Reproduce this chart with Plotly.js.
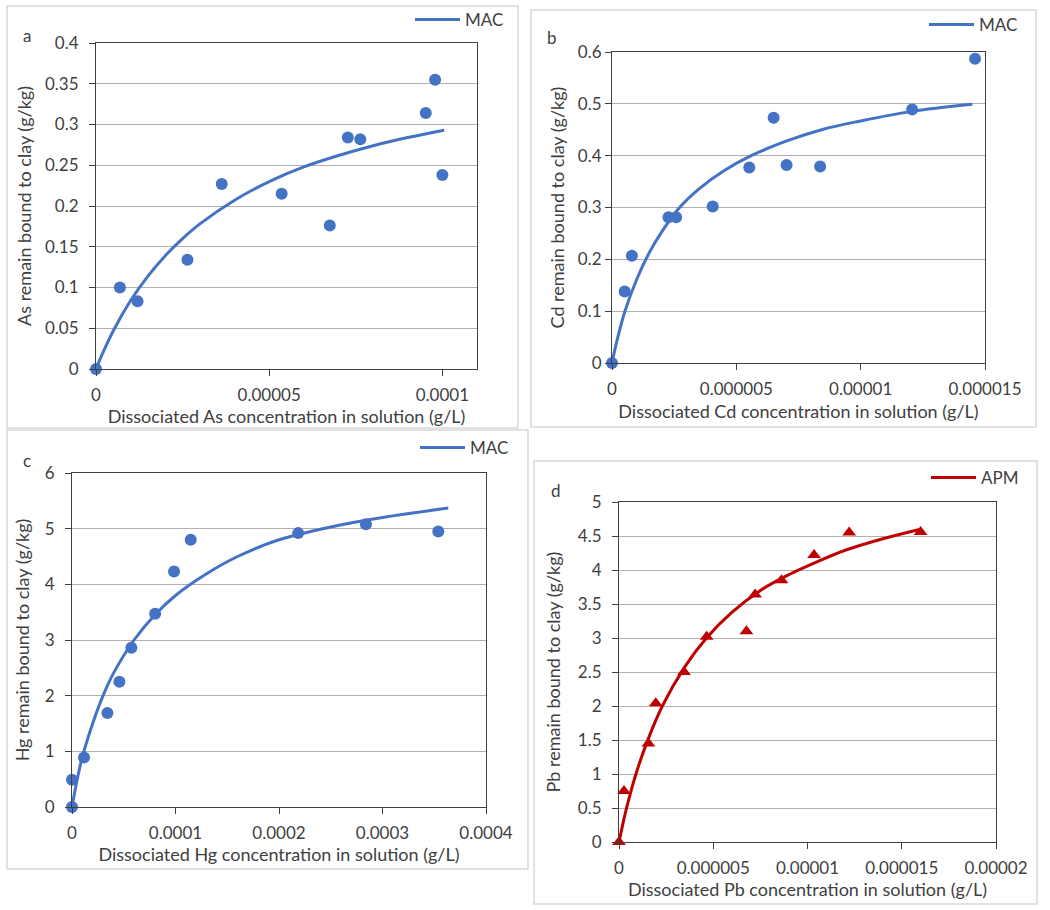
<!DOCTYPE html>
<html>
<head>
<meta charset="utf-8">
<script src="https://cdn.plot.ly/plotly-3.0.1.min.js"></script>
<style>html,body{margin:0;padding:0;background:#fff;}#chart{width:1050px;height:910px;}</style>
</head>
<body>
<div id="chart"></div>
<script>
// ---- Panel a: As (MAC) ----
const asX = [0, 0.0000069, 0.000012, 0.0000264, 0.0000363, 0.0000536, 0.0000675, 0.0000727, 0.0000763, 0.0000952, 0.0000979, 0.0001];
const asY = [0, 0.1, 0.083, 0.134, 0.227, 0.215, 0.176, 0.284, 0.282, 0.314, 0.355, 0.238];
const asFitX = [0, 0.000002, 0.000005, 0.00001, 0.000015, 0.00002, 0.000025, 0.00003, 0.00004, 0.00005, 0.00006, 0.00007, 0.00008, 0.00009, 0.0001005];
const asFitY = [0, 0.02, 0.047, 0.084, 0.114, 0.139, 0.16, 0.178, 0.207, 0.23, 0.248, 0.262, 0.274, 0.284, 0.293];

// ---- Panel b: Cd (MAC) ----
const cdX = [0, 0.00000051, 0.0000008, 0.00000227, 0.00000258, 0.00000405, 0.00000552, 0.0000065, 0.00000702, 0.00000837, 0.00001207, 0.0000146];
const cdY = [0, 0.138, 0.207, 0.281, 0.281, 0.302, 0.377, 0.473, 0.382, 0.379, 0.489, 0.587];
const cdFitX = [0, 0.0000002, 0.00000052, 0.000001, 0.0000015, 0.000002, 0.0000027, 0.0000035, 0.0000045, 0.0000056, 0.000007, 0.0000085, 0.00001, 0.000012, 0.00001449];
const cdFitY = [0, 0.043, 0.1, 0.162, 0.213, 0.253, 0.299, 0.336, 0.371, 0.4, 0.428, 0.451, 0.467, 0.485, 0.499];

// ---- Panel c: Hg (MAC) ----
const hgX = [0, 0, 0.0000116, 0.0000342, 0.0000458, 0.0000574, 0.0000803, 0.0000986, 0.0001147, 0.0002185, 0.000284, 0.0003539];
const hgY = [0, 0.49, 0.89, 1.69, 2.25, 2.86, 3.47, 4.23, 4.8, 4.92, 5.08, 4.95];
const hgFitX = [0, 0.000004, 0.00001, 0.00002, 0.00003, 0.00004, 0.00006, 0.00008, 0.0001, 0.00013, 0.00016, 0.0002, 0.00025, 0.0003, 0.0003636];
const hgFitY = [0, 0.4, 0.9, 1.5, 2.0, 2.4, 3.0, 3.45, 3.8, 4.19, 4.5, 4.8, 5.03, 5.2, 5.37];

// ---- Panel d: Pb (APM) ----
const pbX = [0, 0.000000265, 0.00000156, 0.00000195, 0.00000345, 0.00000465, 0.00000676, 0.00000722, 0.00000862, 0.00001035, 0.00001221, 0.000016];
const pbY = [0, 0.75, 1.45, 2.04, 2.5, 3.02, 3.1, 3.64, 3.85, 4.22, 4.55, 4.56];
const pbFitX = [0, 0.0000002, 0.0000004, 0.0000009, 0.0000015, 0.0000023, 0.0000035, 0.00000464, 0.000006, 0.0000075, 0.000009, 0.0000105, 0.000012, 0.000014, 0.000016];
const pbFitY = [0, 0.26, 0.5, 1.0, 1.48, 2.0, 2.58, 3.0, 3.38, 3.7, 3.93, 4.12, 4.29, 4.46, 4.6];

// ---- Tick labels ----
const aTickVals = [0, 0.00005, 0.0001];
const aTickText = ['0', '0.00005', '0.0001'];
const bTickVals = [0, 0.000005, 0.00001, 0.000015];
const bTickText = ['0', '0.000005', '0.00001', '0.000015'];
const cTickVals = [0, 0.0001, 0.0002, 0.0003, 0.0004];
const cTickText = ['0', '0.0001', '0.0002', '0.0003', '0.0004'];
const dTickVals = [0, 0.000005, 0.00001, 0.000015, 0.00002];
const dTickText = ['0', '0.000005', '0.00001', '0.000015', '0.00002'];

const fitNames = ['MAC', 'MAC', 'MAC', 'APM'];
const panelLabels = ['a', 'b', 'c', 'd'];

const BLUE = '#4472C4';
const RED = '#C00000';
const W = 1050, H = 910;
const px = v => v / W;
const py = v => 1 - v / H;

const traces = [
  {x: asX, y: asY, xaxis: 'x', yaxis: 'y', mode: 'markers', type: 'scatter', showlegend: false, cliponaxis: false,
   marker: {color: BLUE, size: 12, symbol: 'circle'}},
  {x: asFitX, y: asFitY, xaxis: 'x', yaxis: 'y', mode: 'lines', type: 'scatter', name: fitNames[0], legend: 'legend', cliponaxis: false,
   line: {color: BLUE, width: 3, shape: 'spline', smoothing: 1}},
  {x: cdX, y: cdY, xaxis: 'x2', yaxis: 'y2', mode: 'markers', type: 'scatter', showlegend: false, cliponaxis: false,
   marker: {color: BLUE, size: 12, symbol: 'circle'}},
  {x: cdFitX, y: cdFitY, xaxis: 'x2', yaxis: 'y2', mode: 'lines', type: 'scatter', name: fitNames[1], legend: 'legend2', cliponaxis: false,
   line: {color: BLUE, width: 3, shape: 'spline', smoothing: 1}},
  {x: hgX, y: hgY, xaxis: 'x3', yaxis: 'y3', mode: 'markers', type: 'scatter', showlegend: false, cliponaxis: false,
   marker: {color: BLUE, size: 12, symbol: 'circle'}},
  {x: hgFitX, y: hgFitY, xaxis: 'x3', yaxis: 'y3', mode: 'lines', type: 'scatter', name: fitNames[2], legend: 'legend3', cliponaxis: false,
   line: {color: BLUE, width: 3, shape: 'spline', smoothing: 1}},
  {x: pbX, y: pbY, xaxis: 'x4', yaxis: 'y4', mode: 'markers', type: 'scatter', showlegend: false, cliponaxis: false,
   marker: {color: RED, size: 12, symbol: 'triangle-up'}},
  {x: pbFitX, y: pbFitY, xaxis: 'x4', yaxis: 'y4', mode: 'lines', type: 'scatter', name: fitNames[3], legend: 'legend4', cliponaxis: false,
   line: {color: RED, width: 3, shape: 'spline', smoothing: 1}}
];

const TXT = '#404040';
const AX = '#404040';
function xAxis(domain, anchor, range, vals, text, title, tstand) {
  return {domain: domain, anchor: anchor, range: range, tickvals: vals, ticktext: text,
    showline: true, mirror: true, linecolor: AX, linewidth: 1, ticks: 'outside', ticklen: 6, tickcolor: AX,
    showgrid: false, zeroline: false, ticklabelstandoff: 5, fixedrange: true,
    tickfont: {size: 17, color: TXT}, title: {text: title, font: {size: 18, color: TXT}, standoff: tstand}};
}
function yAxis(domain, anchor, range, dtick, title, lstand, tstand) {
  return {domain: domain, anchor: anchor, range: range, dtick: dtick, tick0: 0,
    showline: true, mirror: true, linecolor: AX, linewidth: 1, ticks: 'outside', ticklen: 6, tickcolor: AX,
    showgrid: true, gridcolor: '#b0b0b0', gridwidth: 1, zeroline: false, ticklabelstandoff: lstand, fixedrange: true,
    tickfont: {size: 17, color: TXT}, title: {text: title, font: {size: 18, color: TXT}, standoff: tstand}};
}
function legendAt(xp, yp) {
  return {x: px(xp), y: py(yp), xanchor: 'left', yanchor: 'middle', bgcolor: 'rgba(0,0,0,0)', borderwidth: 0,
    itemwidth: 45, font: {size: 17, color: TXT}, itemclick: false, itemdoubleclick: false};
}
function frame(x0, y0, x1, y1) {
  return {type: 'rect', xref: 'paper', yref: 'paper', x0: px(x0), x1: px(x1), y0: py(y1), y1: py(y0),
    line: {color: '#d9d9d9', width: 1.5}, fillcolor: 'rgba(0,0,0,0)', layer: 'below'};
}
function label(t, xp, yp) {
  return {text: t, xref: 'paper', yref: 'paper', x: px(xp), y: py(yp), showarrow: false,
    xanchor: 'center', yanchor: 'middle', font: {size: 17, color: TXT}};
}

const layout = {
  width: W, height: H, margin: {l: 0, r: 0, t: 0, b: 0},
  paper_bgcolor: '#ffffff', plot_bgcolor: '#ffffff',
  font: {family: 'Lato, "Open Sans", sans-serif', size: 17, color: TXT},
  xaxis: xAxis([px(96), px(477)], 'y', [0, 0.00011], aTickVals, aTickText, 'Dissociated As concentration in solution (g/L)', 3),
  yaxis: yAxis([py(369), py(43)], 'x', [0, 0.4], 0.05, 'As remain bound to clay (g/kg)', 7, 8),
  xaxis2: xAxis([px(612), px(985)], 'y2', [0, 0.000015], bTickVals, bTickText, 'Dissociated Cd concentration in solution (g/L)', 6),
  yaxis2: yAxis([py(363), py(52)], 'x2', [0, 0.6], 0.1, 'Cd remain bound to clay (g/kg)', 0, 8),
  xaxis3: xAxis([px(72), px(486)], 'y3', [0, 0.0004], cTickVals, cTickText, 'Dissociated Hg concentration in solution (g/L)', 3),
  yaxis3: yAxis([py(807), py(473)], 'x3', [0, 6], 1, 'Hg remain bound to clay (g/kg)', 7, 10),
  xaxis4: xAxis([px(619), px(996)], 'y4', [0, 0.00002], dTickVals, dTickText, 'Dissociated Pb concentration in solution (g/L)', 4),
  yaxis4: yAxis([py(842), py(502)], 'x4', [0, 5], 0.5, 'Pb remain bound to clay (g/kg)', 7, 12),
  legend: legendAt(410, 20),
  legend2: legendAt(924, 25),
  legend3: legendAt(415, 448),
  legend4: legendAt(926, 478),
  shapes: [frame(7, 6, 518, 428), frame(531, 10, 1036, 427), frame(7, 430, 528, 869), frame(534, 461, 1037, 904)],
  annotations: [label(panelLabels[0], 27, 36), label(panelLabels[1], 552, 38), label(panelLabels[2], 27, 460), label(panelLabels[3], 556, 490)]
};

Plotly.newPlot('chart', traces, layout, {displayModeBar: false, staticPlot: true});
</script>
</body>
</html>
